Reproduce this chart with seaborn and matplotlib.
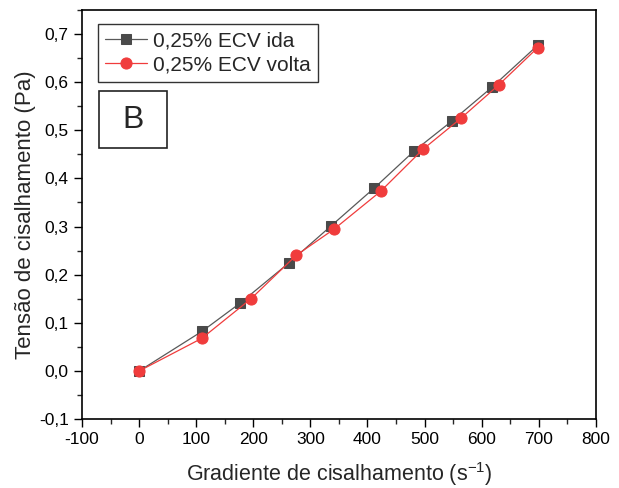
#!/usr/bin/env python3

import pandas as pd
import matplotlib.pyplot as plt
import matplotlib.ticker as mticker
from matplotlib.patches import Rectangle
import seaborn as sns

# ida (squares)
ida_x = [0, 111, 177, 263, 337, 412, 482, 548, 618, 698]
ida_y = [0.0, 0.083, 0.141, 0.225, 0.302, 0.380, 0.457, 0.519, 0.589, 0.676]
# volta (circles)
volta_x = [0, 110, 196, 275, 342, 423, 497, 564, 630, 698]
volta_y = [0.0, 0.068, 0.150, 0.240, 0.295, 0.373, 0.460, 0.525, 0.594, 0.671]

labels = ['0,25% ECV ida', '0,25% ECV volta']


def y_fmt(v, pos):
    return ('%.1f' % v).replace('.', ',')


def x_fmt(v, pos):
    return '%d' % round(v)


def plot_curves():
    sns.set_style('ticks')
    plt.rcParams['font.family'] = ['Liberation Sans', 'DejaVu Sans']
    plt.rcParams['mathtext.fontset'] = 'custom'
    plt.rcParams['mathtext.rm'] = 'Liberation Sans'
    plt.rcParams['axes.unicode_minus'] = False

    df_ida = pd.DataFrame({'x': ida_x, 'y': ida_y})
    df_volta = pd.DataFrame({'x': volta_x, 'y': volta_y})

    fig = plt.figure(figsize=(6.19, 4.88), dpi=100)
    ax = fig.add_axes([0.1325, 0.141, 0.830, 0.839])

    sns.lineplot(x='x', y='y', data=df_ida, sort=False, color='#595959',
                 linewidth=0.9, marker='s', markersize=7,
                 markerfacecolor='#4a4a4a', markeredgecolor='#4a4a4a',
                 label=labels[0], ax=ax)
    sns.lineplot(x='x', y='y', data=df_volta, sort=False, color='#f03c3c',
                 linewidth=0.9, marker='o', markersize=8,
                 markerfacecolor='#f03c3c', markeredgecolor='#f03c3c',
                 label=labels[1], ax=ax)

    ax.set(xlim=(-100, 800), ylim=(-0.1, 0.75))
    ax.xaxis.set_major_locator(mticker.MultipleLocator(100))
    ax.xaxis.set_minor_locator(mticker.MultipleLocator(50))
    ax.yaxis.set_major_locator(mticker.MultipleLocator(0.1))
    ax.yaxis.set_minor_locator(mticker.MultipleLocator(0.05))
    ax.xaxis.set_major_formatter(mticker.FuncFormatter(x_fmt))
    ax.yaxis.set_major_formatter(mticker.FuncFormatter(y_fmt))
    ax.tick_params(which='major', direction='out', length=6, width=1,
                   labelsize=12.5, colors='black')
    ax.tick_params(which='minor', direction='out', length=3.5, width=1)
    for s in ax.spines.values():
        s.set_linewidth(1.2)
        s.set_color('black')

    ax.set_xlabel('Gradiente de cisalhamento (s$^{-1}$)', fontsize=15.5,
                  labelpad=9)
    ax.set_ylabel('Tensão de cisalhamento (Pa)', fontsize=16, labelpad=2)

    leg = ax.legend(loc='upper left', bbox_to_anchor=(98 / 619, 1 - 24 / 488),
                    bbox_transform=fig.transFigure, borderaxespad=0,
                    fontsize=15, frameon=True, fancybox=False,
                    handlelength=2.0, handletextpad=0.3, borderpad=0.35,
                    labelspacing=0.25)
    leg.get_frame().set_edgecolor('black')
    leg.get_frame().set_linewidth(1)

    # panel label box
    fig.patches.append(Rectangle((99 / 619, 1 - 148 / 488), 68 / 619,
                                 57 / 488, transform=fig.transFigure,
                                 fill=False, edgecolor='#222222',
                                 linewidth=1.2))
    fig.text(133 / 619, 1 - 120 / 488, 'B', fontsize=23,
             ha='center', va='center')

    fig.savefig('out.png', dpi=100)


def main():
    plot_curves()


if __name__ == '__main__':
    main()
